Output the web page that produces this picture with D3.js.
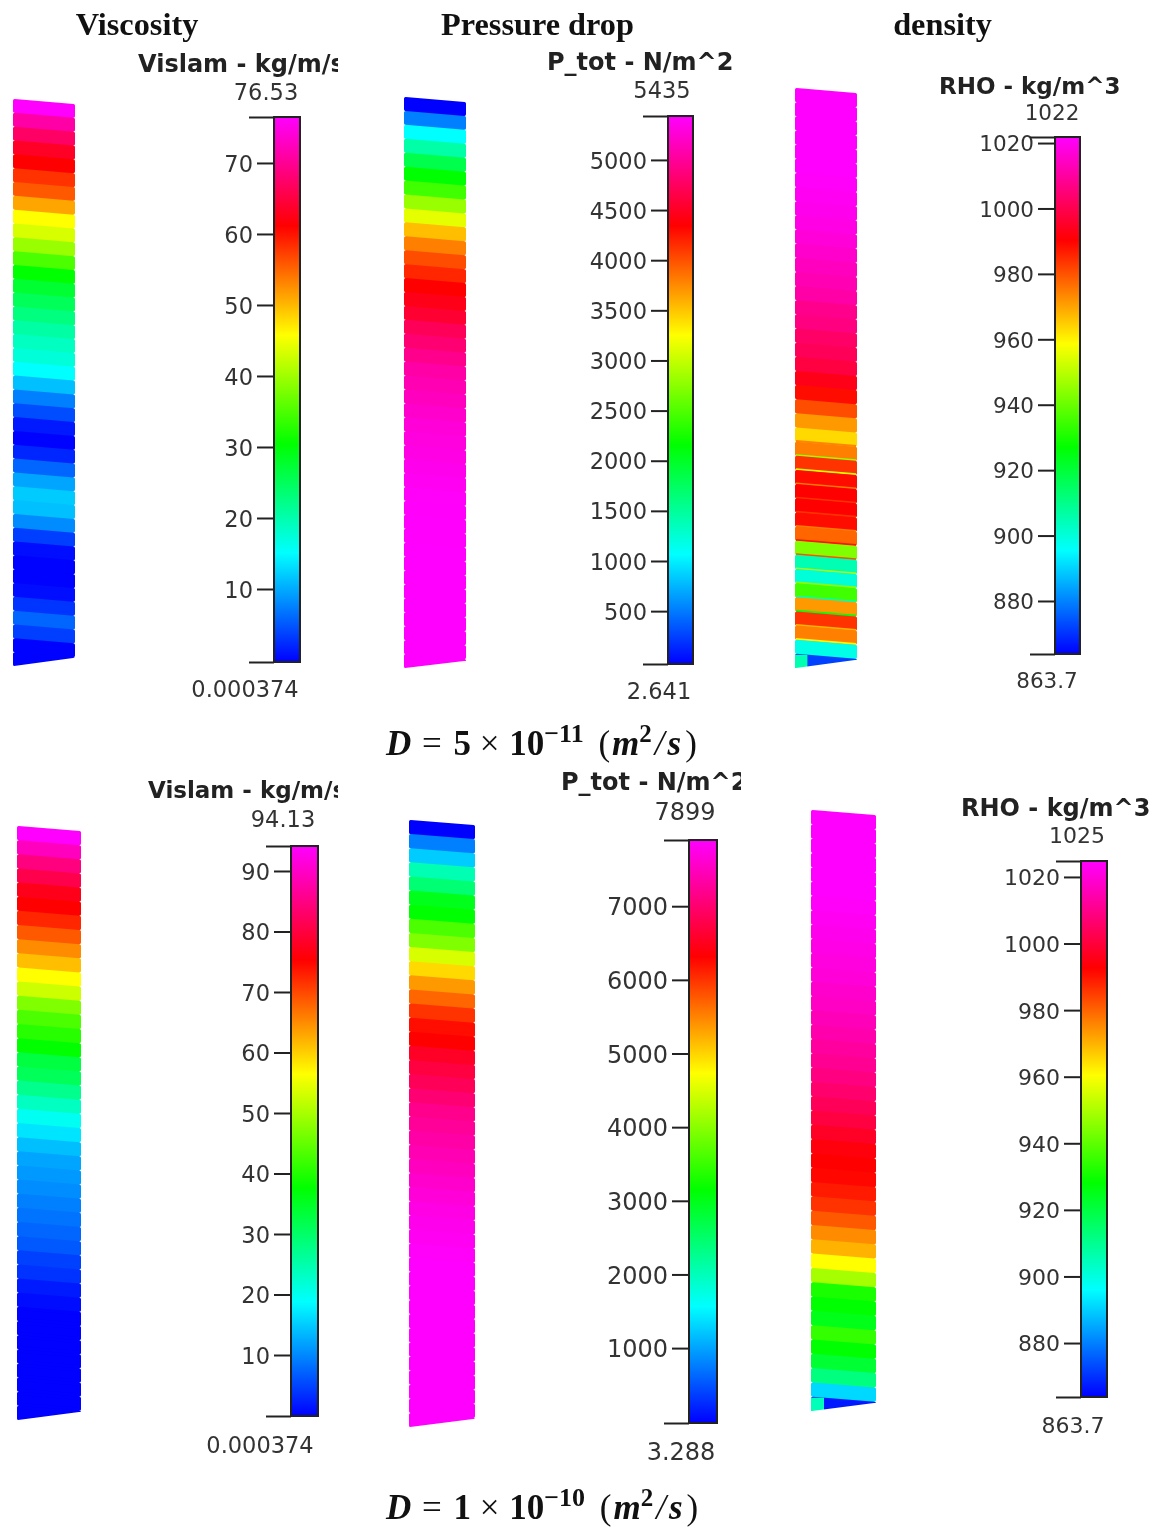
<!DOCTYPE html>
<html><head><meta charset="utf-8">
<script src="https://cdn.jsdelivr.net/npm/d3@7/dist/d3.min.js"></script>
<style>
html,body{margin:0;padding:0;background:#fff}
svg{display:block}
.tick text{font-family:"DejaVu Sans";fill:#333}
</style></head><body>
<svg id="c" width="1159" height="1528"></svg>
<script>
// ---- data (top to bottom along each column, in the unit of its colour bar) ----
const headings = ["Viscosity","Pressure drop","density"];
const visTopTicks = [10,20,30,40,50,60,70];
const presTopTicks = [500,1000,1500,2000,2500,3000,3500,4000,4500,5000];
const rhoTicks = [880,900,920,940,960,980,1000,1020];
const visBotTicks = [10,20,30,40,50,60,70,80,90];
const presBotTicks = [1000,2000,3000,4000,5000,6000,7000];

const visTop = [76.5,71.2,67.3,63.5,61.2,58.2,55.9,51.3,45.9,43.6,39.8,35.2,30.6,27.6,25.3,23,20.7,19.1,17.6,15.3,
  11.5,7.7,4.6,1.5,0.1,2.3,6.1,9.9,12.2,11.5,8.4,3.8,0.8,0.1,0.1,0.8,3.1,6.1,3.8,0.1,0.1];
const presTop = [3,543,1087,1467,1848,2174,2446,2826,3152,3533,3805,4022,4185,4348,4457,4565,4728,4837,4946,
  5055,5109,5163,5218,5272,5299,5326,5353,5380,5408,5420,5424,5427,5429,5430,5431,5432,5433,5434,5435,5435,5435];
const rhoTop = [1022,1022,1022,1022,1022,1022,1021.2,1020.4,1019.6,1018.8,1017.3,1015.7,1014.1,1012.5,1010.9,1007.7,1006.2,1003,
  1001.4,998.3,993.5,988.8,980.8,971.3,963.4,974.5,984,988.8,990.3,990.3,988.8,977.7,942.9,904.9,900.1,934.9,971.3,984,974.5,898.5,871.6];
const rhoTopRim = [null,null,null,null,null,null,null,null,null,null,null,null,null,null,null,null,null,null,
  null,null,null,null,null,null,974,946,955,975,984,984,975,988,980,950,945,904,925,968,960,null,null];
const visBot = [94.1,89.4,84.7,81,77.2,75.3,72.5,68.7,65,61.2,56.5,52.7,47.1,43.3,40.5,37.7,32.9,31.1,27.3,23.5,19.8,
  16.9,14.1,12.2,11.3,10.4,9.4,8.5,7.5,6.6,4.7,3.8,1.9,0.9,0.1,0.1,0.1,0.1,0.1,0.1,0.1,0.1];
const presBot = [3.3,790,1264,2054,2449,3002,3160,3634,3950,4502,4976,5371,5687,6003,6240,6319,6556,6714,6872,7030,7188,
  7267,7346,7425,7504,7583,7662,7741,7781,7820,7860,7899,7899,7899,7899,7899,7899,7899,7899,7899,7899,7899,7899];
const rhoBot = [1025,1025,1025,1025,1025,1025,1024.2,1023.4,1022.6,1021.8,1021,1020.2,1018.5,1017.7,1016.1,1014.5,1012.9,1011.3,1008.9,1006.5,1004,1000.8,997.6,994.4,992.7,991.9,
  989.5,986.3,981.5,975,970.2,960.5,949.2,931.4,928.2,925,934.7,928.2,921.8,912.1,891.1,866.9];

// ---- layout ----
const panels = [
 {title:"Vislam - kg/m/s",tx:138,ty:72,clipR:338,tfs:24,fs:22.5,min:0.000374,max:76.53,maxL:"76.53",minL:"0.000374",ticks:visTopTicks,vals:visTop,
  col:[13,75,99,666,658],bar:[274,300,117,662],axisR:[660,116.6],maxXY:[266,100],minXY:[245,697]},
 {title:"P_tot - N/m^2",tx:547,ty:70,clipR:760,tfs:24,fs:22.5,min:2.641,max:5435,maxL:"5435",minL:"2.641",ticks:presTopTicks,vals:presTop,
  col:[404,466,97,668,661],bar:[668,693,116,664],axisR:[661,116.3],maxXY:[662,98],minXY:[659,699]},
 {title:"RHO - kg/m^3",tx:939,ty:94,clipR:1159,tfs:23,fs:21.5,min:863.7,max:1022,maxL:"1022",minL:"863.7",ticks:rhoTicks,vals:rhoTop,rim:rhoTopRim,corner:905,
  col:[795,857,88,668,660],bar:[1055,1080,137,654],axisR:[654.3,136.5],maxXY:[1052,120],minXY:[1047,688]},
 {title:"Vislam - kg/m/s",tx:148,ty:798,clipR:338,tfs:23,fs:22.5,min:0.000374,max:94.13,maxL:"94.13",minL:"0.000374",ticks:visBotTicks,vals:visBot,
  col:[17,81,826,1420,1412],bar:[291,318,846,1416],axisR:[1415.5,846],maxXY:[283,827],minXY:[260,1453]},
 {title:"P_tot - N/m^2",tx:561,ty:790,clipR:741,tfs:24,fs:24,min:3.288,max:7899,maxL:"7899",minL:"3.288",ticks:presBotTicks,vals:presBot,
  col:[409,475,820,1427,1419],bar:[689,717,840,1423],axisR:[1421.5,840],maxXY:[685,820],minXY:[681,1460]},
 {title:"RHO - kg/m^3",tx:961,ty:816,clipR:1159,tfs:24,fs:22,min:863.7,max:1025,maxL:"1025",minL:"863.7",ticks:rhoTicks,vals:rhoBot,corner:905,
  col:[811,876,810,1411,1403],bar:[1081,1107,861,1397],axisR:[1397.3,860.3],maxXY:[1077,843],minXY:[1073,1433]}
];
const headingX = [137,537.5,942.5];
const slant = 5;

const rainbow = ["#0000ff","#00ffff","#00ff00","#ffff00","#ff0000","#ff00ff"];
const svg = d3.select("#c");
const defs = svg.append("defs");
const root = svg.append("g").style("filter","blur(0.55px)");

root.selectAll("text.head").data(headings).join("text").attr("class","head")
  .attr("x",(d,i)=>headingX[i]).attr("y",35).attr("text-anchor","middle")
  .attr("font-family","Liberation Serif").attr("font-weight","bold").attr("font-size",32.3).attr("fill","#111").text(d=>d);

panels.forEach((p,pi)=>{
  const g = root.append("g");
  const [x0,x1,yT,yBL,yBR] = p.col;
  const color = d3.scaleLinear().domain(d3.range(6).map(i=>p.min+(p.max-p.min)*i/5)).range(rainbow).clamp(true);

  // column: rounded bands leave a notch at each side; an inner patch hides the seam between bands
  const band = d3.scaleBand().domain(d3.range(p.vals.length)).range([yT,yBL]);
  const step = band.step();
  const lx = d3.scaleLinear().domain([0,1]).range([x0,x1]);
  const cid = "clip"+pi;
  defs.append("clipPath").attr("id",cid).append("polygon")
    .attr("points",[[x0-3,yT-3],[x1+3,yT-3],[x1+3,yBR],[x1-2,yBR],[x0+1,yBL],[x0-3,yBL]].join(" "));
  const colG = g.append("g").attr("clip-path",`url(#${cid})`);
  const line = d3.line();
  p.vals.forEach((v,i)=>{
    const t = band(i), inset = 1.6, r = 1.8;
    const c = color(v);
    colG.append("path")
      .attr("d",line([[lx(0)+r,t+step/2],[lx(1)-r,t+step/2+slant],[lx(1)-r,t+step+1.2+slant],[lx(0)+r,t+step+1.2]])+"Z")
      .attr("fill",c);
    colG.append("path")
      .attr("d",line([[lx(0)+inset,t+inset],[lx(1)-inset,t+inset+slant],[lx(1)-inset,t+step-inset+slant],[lx(0)+inset,t+step-inset]])+"Z")
      .attr("fill",c).attr("stroke",c).attr("stroke-width",inset*2).attr("stroke-linejoin","round");
    if(p.rim && p.rim[i]!=null){
      colG.append("path")
        .attr("d",line([[lx(0)+1,t+step-0.6],[lx(1)-1,t+step-0.6+slant]]))
        .attr("fill","none").attr("stroke",color(p.rim[i])).attr("stroke-width",2);
    }
  });
  if(p.corner!=null){
    const i = p.vals.length-1, t = band(i);
    colG.append("rect").attr("x",lx(0)).attr("y",t+1).attr("width",(x1-x0)*0.2).attr("height",step+4)
      .attr("fill",color(p.corner));
  }

  // colour bar
  const [bx0,bx1,by0,by1] = p.bar;
  const y = d3.scaleLinear().domain([p.min,p.max]).range(p.axisR);
  const yEnd = d3.scaleLinear().domain([p.min,p.max]).range([by1,by0]);
  const gid = "grad"+pi;
  const grad = defs.append("linearGradient").attr("id",gid).attr("x1",0).attr("x2",0).attr("y1",1).attr("y2",0);
  color.domain().forEach((d,i)=>grad.append("stop").attr("offset",(i/5)).attr("stop-color",rainbow[i]));
  g.append("rect").attr("x",bx0).attr("y",by0).attr("width",bx1-bx0).attr("height",by1-by0)
    .attr("fill",`url(#${gid})`).attr("stroke","#222").attr("stroke-width",2);

  const axis = d3.axisLeft(y).tickValues(p.ticks).tickSize(17).tickPadding(4).tickFormat(d3.format("d"));
  const ag = g.append("g").attr("transform",`translate(${bx0},0)`).call(axis);
  ag.select(".domain").remove();
  ag.selectAll(".tick line").attr("stroke","#222").attr("stroke-width",2);
  ag.selectAll(".tick text").attr("font-size",p.fs).attr("dy","0.36em");

  const endAxis = d3.axisLeft(yEnd).tickValues([p.min,p.max]).tickSize(25).tickFormat("");
  const eg = g.append("g").attr("transform",`translate(${bx0},0)`).call(endAxis);
  eg.select(".domain").remove();
  eg.selectAll(".tick line").attr("stroke","#222").attr("stroke-width",2);

  // texts
  const tcid = "tclip"+pi;
  defs.append("clipPath").attr("id",tcid).append("rect").attr("x",p.tx-5).attr("y",p.ty-30).attr("width",p.clipR-p.tx+5).attr("height",40);
  g.append("text").attr("clip-path",`url(#${tcid})`).attr("x",p.tx).attr("y",p.ty)
    .attr("font-family","DejaVu Sans").attr("font-weight","bold").attr("font-size",p.tfs).attr("fill","#222")
    .text(p.title);
  g.append("text").attr("x",p.maxXY[0]).attr("y",p.maxXY[1]).attr("text-anchor","middle")
    .attr("font-family","DejaVu Sans").attr("font-size",p.fs).attr("fill","#333").text(p.maxL);
  g.append("text").attr("x",p.minXY[0]).attr("y",p.minXY[1]).attr("text-anchor","middle")
    .attr("font-family","DejaVu Sans").attr("font-size",p.fs).attr("fill","#333").text(p.minL);
});

// captions
const captionY = [755,1519];
const captionExp = ["5","−11","1","−10"];
captionY.forEach((cy,i)=>{
  const t = root.append("text").attr("x",386).attr("y",cy).attr("font-family","Liberation Serif")
    .attr("font-size",35).attr("font-weight","bold").attr("fill","#111").attr("xml:space","preserve");
  const s = (txt,o={})=>{const e=t.append("tspan").text(txt);
    if(o.it)e.attr("font-style","italic"); if(o.n)e.attr("font-weight","normal");
    if(o.dx)e.attr("dx",o.dx); if(o.dy)e.attr("dy",o.dy); if(o.fs)e.attr("font-size",o.fs); return e;};
  s("D",{it:1}); s(" = ",{n:1,dx:2}); s(captionExp[i*2],{dx:3}); s(" × ",{n:1,dx:0}); s("10",{dx:1});
  s(captionExp[i*2+1],{dy:-13,fs:26,dx:0}); s(" (",{dy:13,n:1,dx:6}); s("m",{it:1,dx:2});
  s("2",{dy:-13,fs:25}); s("/",{dy:13,it:1,n:1,dx:3}); s("s",{it:1,dx:3}); s(")",{n:1,dx:4});
});
</script>
</body></html>
